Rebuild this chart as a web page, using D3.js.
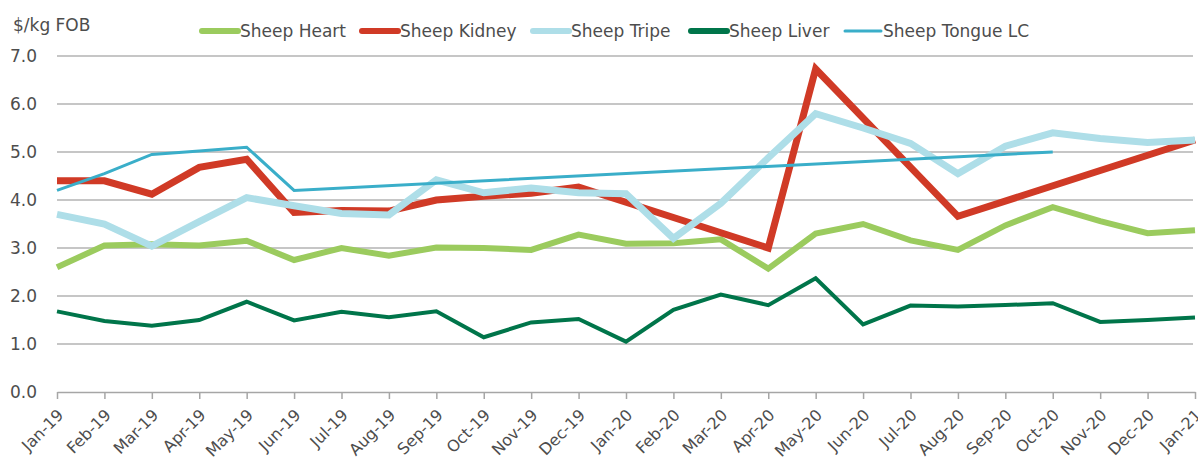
<!DOCTYPE html>
<html>
<head>
<meta charset="utf-8">
<script src="https://cdn.jsdelivr.net/npm/d3@7"></script>
<style>
  body { margin: 0; background: #fff; }
  text { font-family: 'DejaVu Sans', Verdana, sans-serif; fill: #4d4d4d; }
</style>
</head>
<body>
<div id="chart"></div>
<script>
// Months along the x axis
const months = ['Jan-19', 'Feb-19', 'Mar-19', 'Apr-19', 'May-19', 'Jun-19', 'Jul-19', 'Aug-19',
  'Sep-19', 'Oct-19', 'Nov-19', 'Dec-19', 'Jan-20', 'Feb-20', 'Mar-20', 'Apr-20', 'May-20',
  'Jun-20', 'Jul-20', 'Aug-20', 'Sep-20', 'Oct-20', 'Nov-20', 'Dec-20', 'Jan-21']

// Prices in $/kg FOB, null = no reading (line joins the neighbours)
const heart = [2.6, 3.05, 3.08, 3.05, 3.15, 2.75, 3.0, 2.84, 3.01, 3.0, 2.96, 3.28, 3.09, 3.1,
  3.18, 2.57, 3.3, 3.5, 3.16, 2.96, 3.47, 3.85, 3.56, 3.31, 3.37]
const kidney = [4.4, 4.4, 4.12, 4.68, 4.85, 3.74, 3.78, 3.77, 4.0, 4.08, 4.14, 4.27, null, null,
  null, 3.0, 6.73, null, null, 3.66, null, null, null, null, 5.25]
const tripe = [3.7, 3.5, 3.04, 3.55, 4.05, 3.88, 3.72, 3.69, 4.42, 4.15, 4.25, 4.15, 4.13, 3.2,
  3.93, 4.88, 5.8, 5.5, 5.18, 4.55, 5.12, 5.4, 5.28, 5.2, 5.25]
const liver = [1.68, 1.48, 1.38, 1.5, 1.88, 1.49, 1.67, 1.56, 1.68, 1.14, 1.45, 1.52, 1.05, 1.71,
  2.03, 1.81, 2.37, 1.41, 1.8, 1.78, 1.81, 1.85, 1.46, 1.5, 1.55]
const tongue = [4.2, 4.55, 4.95, 5.02, 5.1, 4.2, null, null, null, null, null, null, null, null,
  null, null, null, null, null, null, null, 5.0, null, null, null]

const yTicks = [0, 1, 2, 3, 4, 5, 6, 7]

const series = [
  { name: 'Sheep Heart', values: heart, color: '#9bcb5e', width: 6 },
  { name: 'Sheep Kidney', values: kidney, color: '#d03a26', width: 7 },
  { name: 'Sheep Tripe', values: tripe, color: '#aedee8', width: 7 },
  { name: 'Sheep Liver', values: liver, color: '#00754a', width: 4 },
  { name: 'Sheep Tongue LC', values: tongue, color: '#3aaec9', width: 3 }
]

const width = 1198
const height = 464
const margin = { top: 56, right: 3, bottom: 72, left: 57 }

const svg = d3.select('#chart').append('svg')
  .attr('width', width)
  .attr('height', height)

const x = d3.scalePoint()
  .domain(months)
  .range([margin.left, width - margin.right])

const y = d3.scaleLinear()
  .domain([0, 7])
  .range([height - margin.bottom, margin.top])

// Gridlines
svg.append('g')
  .selectAll('line')
  .data(yTicks.filter(d => d > 0))
  .join('line')
  .attr('x1', margin.left)
  .attr('x2', width - margin.right - 2)
  .attr('y1', d => y(d))
  .attr('y2', d => y(d))
  .attr('stroke', '#b3b3b3')
  .attr('stroke-width', 1.5)

// Y axis labels
svg.append('g')
  .selectAll('text')
  .data(yTicks)
  .join('text')
  .attr('x', 37)
  .attr('y', d => y(d) + 6)
  .attr('text-anchor', 'end')
  .style('font-size', '17px')
  .text(d => d.toFixed(1))

svg.append('text')
  .attr('x', 13)
  .attr('y', 31)
  .style('font-size', '17px')
  .text('$/kg FOB')

// X axis
const xAxis = svg.append('g')
  .attr('transform', `translate(0,${y(0)})`)
  .call(d3.axisBottom(x).tickSize(7).tickSizeOuter(0).tickPadding(0))

xAxis.select('.domain').attr('stroke', '#a6a6a6').attr('stroke-width', 1.5)
xAxis.selectAll('.tick line').attr('stroke', '#a6a6a6').attr('stroke-width', 1.5)
xAxis.selectAll('.tick text')
  .attr('fill', '#4d4d4d')
  .style('font-size', '16px')
  .style('font-family', "'DejaVu Sans', Verdana, sans-serif")
  .attr('text-anchor', 'end')
  .attr('dy', null)
  .attr('y', 0)
  .attr('transform', 'translate(7,24) rotate(-45)')

// Lines
const line = d3.line()
  .x(d => x(d.month))
  .y(d => y(d.value))

series.forEach(s => {
  const pts = months
    .map((m, i) => ({ month: m, value: s.values[i] }))
    .filter(d => d.value != null)
  svg.append('path')
    .datum(pts)
    .attr('d', line)
    .attr('fill', 'none')
    .attr('stroke', s.color)
    .attr('stroke-width', s.width)
    .attr('stroke-linejoin', 'miter')
})

// Legend
const legendX = [200, 360, 531, 689, 843]
const legend = svg.append('g')
series.forEach((s, i) => {
  const g = legend.append('g').attr('transform', `translate(${legendX[i]},31)`)
  g.append('line')
    .attr('x1', 2)
    .attr('x2', 38)
    .attr('stroke', s.color)
    .attr('stroke-width', s.width === 3 ? 3 : 6)
    .attr('stroke-linecap', 'round')
  g.append('text')
    .attr('x', 40)
    .attr('y', 6)
    .style('font-size', '17px')
    .text(s.name)
})
</script>
</body>
</html>
